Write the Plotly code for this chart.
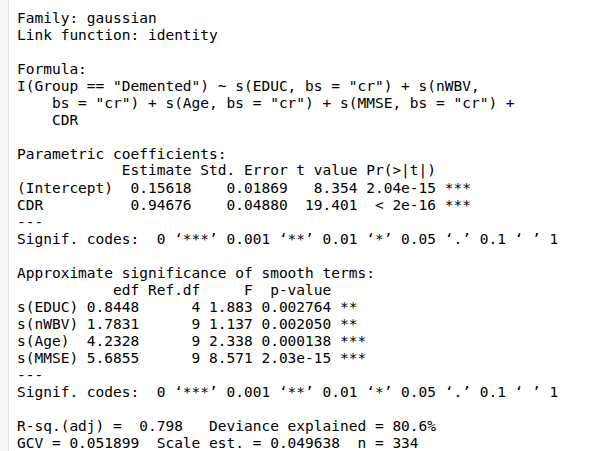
import plotly.graph_objects as go

# --- model summary values ---
family = "gaussian"
link_function = "identity"
formula_lines = [
    'I(Group == "Demented") ~ s(EDUC, bs = "cr") + s(nWBV, ',
    '    bs = "cr") + s(Age, bs = "cr") + s(MMSE, bs = "cr") + ',
    "    CDR",
]

param_terms = ["(Intercept)", "CDR"]
param_estimate = [0.15618, 0.94676]
param_std_error = [0.01869, 0.04880]
param_t_value = [8.354, 19.401]
param_p_value = ["2.04e-15", "< 2e-16"]
param_stars = ["***", "***"]

smooth_terms = ["s(EDUC)", "s(nWBV)", "s(Age)", "s(MMSE)"]
smooth_edf = [0.8448, 1.7831, 4.2328, 5.6855]
smooth_ref_df = [4, 9, 9, 9]
smooth_f = [1.883, 1.137, 2.338, 8.571]
smooth_p_value = ["0.002764", "0.002050", "0.000138", "2.03e-15"]
smooth_stars = ["**", "**", "***", "***"]

signif_codes = "Signif. codes:  0 \u2018***\u2019 0.001 \u2018**\u2019 0.01 \u2018*\u2019 0.05 \u2018.\u2019 0.1 \u2018 \u2019 1"
r_sq_adj = 0.798
deviance_explained = 80.6
gcv = 0.051899
scale_est = 0.049638
n_obs = 334

# --- build the console lines the way R prints them ---
lines = [f"Family: {family}", f"Link function: {link_function}", "", "Formula:"]
lines += formula_lines
lines += ["", "Parametric coefficients:"]
lines.append(" " * 11 + " Estimate Std. Error t value Pr(>|t|)    ")
for i, term in enumerate(param_terms):
    lines.append(
        f"{term:<11} {param_estimate[i]:8.5f} {param_std_error[i]:10.5f} "
        f"{param_t_value[i]:7.3f} {param_p_value[i]:>8} {param_stars[i]}"
    )
lines += ["---", signif_codes, "", "Approximate significance of smooth terms:"]
lines.append(" " * 7 + "    edf Ref.df     F  p-value    ")
for i, term in enumerate(smooth_terms):
    lines.append(
        f"{term:<7} {smooth_edf[i]:6.4f} {smooth_ref_df[i]:6d} "
        f"{smooth_f[i]:5.3f} {smooth_p_value[i]:>8} {smooth_stars[i]}"
    )
lines += ["---", signif_codes, ""]
lines.append(f"R-sq.(adj) =  {r_sq_adj:.3f}   Deviance explained = {deviance_explained:.1f}%")
lines.append(f"GCV = {gcv:.6f}  Scale est. = {scale_est:.6f}  n = {n_obs}")

W, H = 593, 451
TOP = 17.5        # centre of first line, px
STEP = 17.02      # line pitch, px
TEXT_LEFT = 15.5  # px

fig = go.Figure()
fig.add_trace(go.Scatter(x=[0], y=[0], mode="markers", marker=dict(opacity=0), hoverinfo="skip"))

for i, text in enumerate(lines):
    if not text:
        continue
    fig.add_annotation(
        x=TEXT_LEFT, y=i, xref="x", yref="y",
        text=text.replace(" ", "\u00a0"),
        showarrow=False, xanchor="left", yanchor="middle", borderpad=0,
        font=dict(family="DejaVu Sans Mono", size=14.5, color="#000000"),
    )

# left gutter of the console pane
fig.add_shape(type="rect", xref="x", yref="paper", x0=0, x1=8, y0=0, y1=1,
              fillcolor="#f6f6f6", line_width=0, layer="below")
fig.add_shape(type="line", xref="x", yref="paper", x0=8.5, x1=8.5, y0=0, y1=1,
              line=dict(color="#e2e2e2", width=1))

fig.update_layout(
    width=W, height=H,
    margin=dict(l=0, r=0, t=0, b=0),
    paper_bgcolor="white", plot_bgcolor="white",
    showlegend=False,
    xaxis=dict(range=[0, W], visible=False, fixedrange=True),
    yaxis=dict(range=[(H - TOP) / STEP, -TOP / STEP], visible=False, fixedrange=True),
)

# page body has a default 8px margin; drop it so the figure sits at the window corner
fig.write_html("out.html", config={"displayModeBar": False},
               post_script="document.body.style.margin='0';")
